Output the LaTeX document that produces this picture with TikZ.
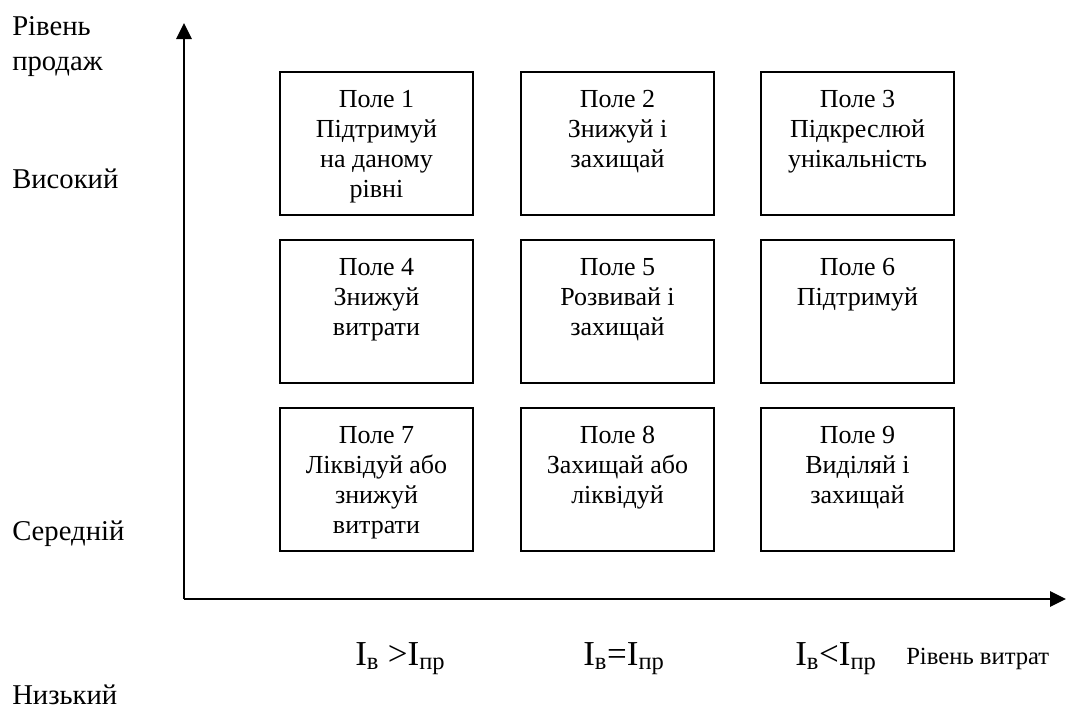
\documentclass[tikz,border=0pt]{standalone}
\usepackage{fontspec}
\setmainfont{Liberation Serif}
\newfontfamily\tnr{Liberation Serif}
\usetikzlibrary{arrows.meta}
\begin{document}
\begin{tikzpicture}[x=0.75pt,y=-0.75pt,
  axis/.style={line width=1.5pt,-{Triangle[length=12pt,width=11.5pt]}},
  field/.style={draw,line width=1.5pt,minimum width=144.75pt,minimum height=107.25pt,inner sep=0pt,anchor=north west},
  fieldtext/.style={anchor=north,inner sep=0pt,align=center,font=\tnr\fontsize{19.5pt}{22.5pt}\selectfont},
  side/.style={inner sep=0pt,font=\tnr\fontsize{21.5pt}{26.25pt}\selectfont},
  cost/.style={inner sep=0pt,anchor=base west,font=\tnr\fontsize{26.25pt}{30pt}\selectfont}]
\useasboundingbox (0,0) rectangle (1066,711);
% axes
\coordinate (o) at (184,599);
\coordinate (ytop) at (184,23);
\coordinate (xend) at (1066,599);
\draw[axis] (o) -- (ytop);
\draw[axis] (o) -- (xend);
% fields
\node[field] (b1) at (279,71) {};
\node[field] (b2) at (520,71) {};
\node[field] (b3) at (760,71) {};
\node[field] (b4) at (279,239) {};
\node[field] (b5) at (520,239) {};
\node[field] (b6) at (760,239) {};
\node[field] (b7) at (279,407) {};
\node[field] (b8) at (520,407) {};
\node[field] (b9) at (760,407) {};
\node[fieldtext] (t1) at ([yshift=-14.25pt]b1.north) {Поле 1\\Підтримуй\\на даному\\рівні};
\node[fieldtext] (t2) at ([yshift=-14.25pt]b2.north) {Поле 2\\Знижуй і\\захищай};
\node[fieldtext] (t3) at ([yshift=-14.25pt]b3.north) {Поле 3\\Підкреслюй\\унікальність};
\node[fieldtext] (t4) at ([yshift=-14.25pt]b4.north) {Поле 4\\Знижуй\\витрати};
\node[fieldtext] (t5) at ([yshift=-14.25pt]b5.north) {Поле 5\\Розвивай і\\захищай};
\node[fieldtext] (t6) at ([yshift=-14.25pt]b6.north) {Поле 6\\Підтримуй};
\node[fieldtext] (t7) at ([yshift=-14.25pt]b7.north) {Поле 7\\Ліквідуй або\\знижуй\\витрати};
\node[fieldtext] (t8) at ([yshift=-14.25pt]b8.north) {Поле 8\\Захищай або\\ліквідуй};
\node[fieldtext] (t9) at ([yshift=-14.25pt]b9.north) {Поле 9\\Виділяй і\\захищай};
% side labels
\node[side,anchor=north west,align=left] (ylab) at (12,16) {Рівень\\продаж};
\node[side,anchor=base west] (high) at (12,188) {Високий};
\node[side,anchor=base west] (mid) at (12,540) {Середній};
\node[side,anchor=base west] (low) at (12,704) {Низький};
% cost labels
\node[cost] (c1) at (355,665) {I\textsubscript{в} >I\textsubscript{пр}};
\node[cost] (c2) at (583,665) {I\textsubscript{в}=I\textsubscript{пр}};
\node[cost] (c3) at (795,665) {I\textsubscript{в}<I\textsubscript{пр}};
\node[inner sep=0pt,anchor=base west,font=\tnr\fontsize{18.5pt}{21pt}\selectfont] (xlab) at (906,664) {Рівень витрат};
\end{tikzpicture}
\end{document}
